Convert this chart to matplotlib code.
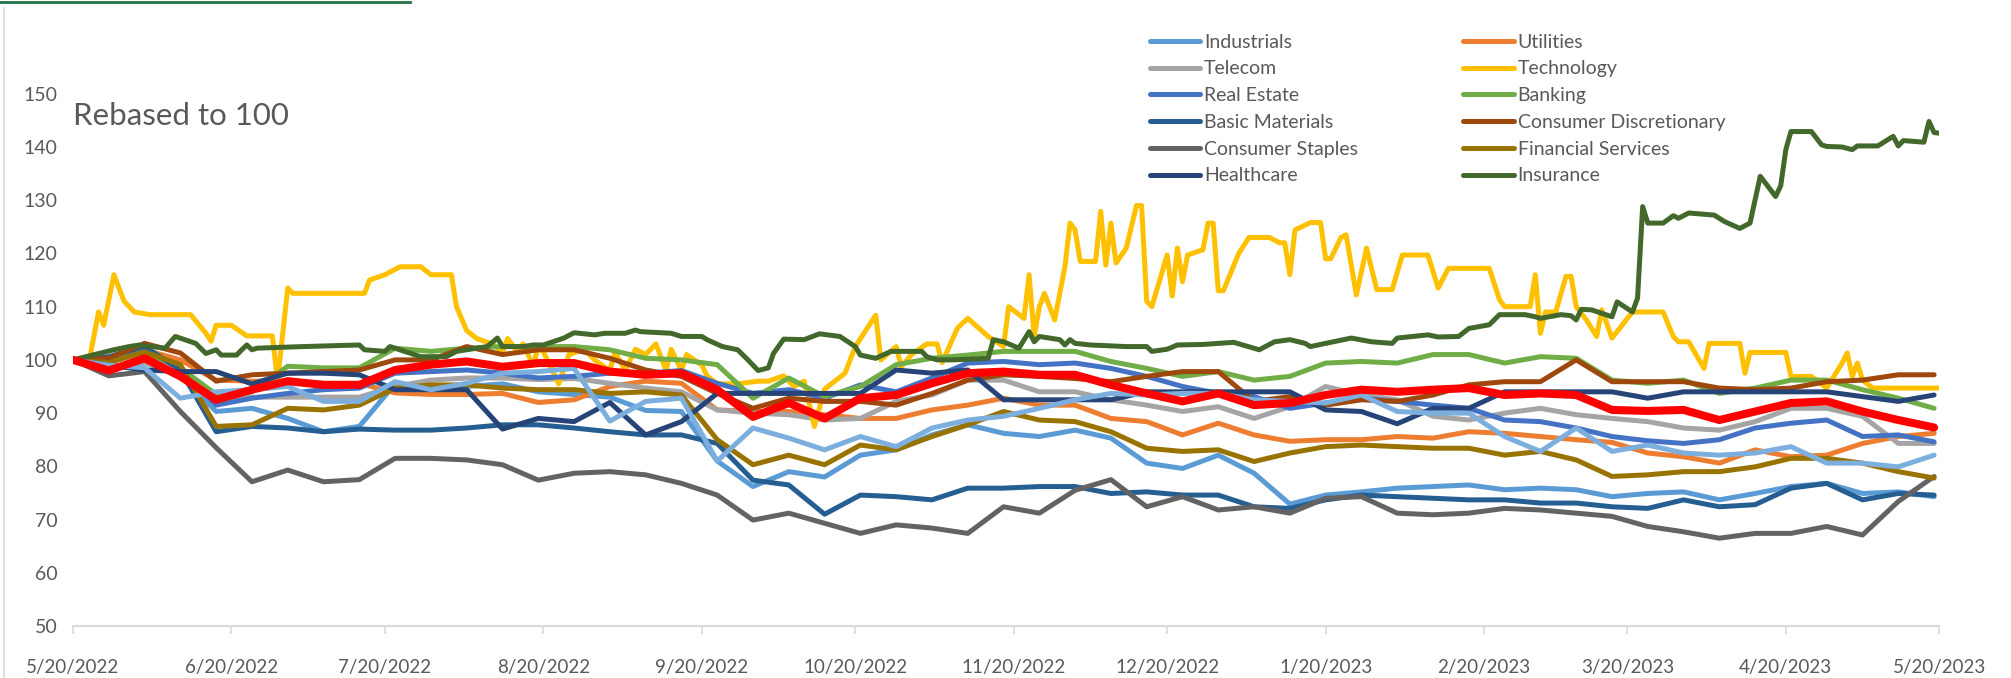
import numpy as np
import matplotlib.pyplot as plt
from matplotlib.lines import Line2D

plt.rcParams['font.family'] = ['Lato', 'DejaVu Sans']

# weekly closes, rebased to 100 on 5/20/2022 (week 0 .. week 52)
industrials = [100, 98.5, 99.5, 97, 90.3, 90.9, 89, 86.5, 87.5,
               95.5, 95, 95, 95.5, 94, 93.5, 93, 90.5, 90.3,
               81, 76.2, 79, 78, 82.1, 83.1, 85.9, 87.8, 86.2,
               85.6, 86.8, 85.3, 80.6, 79.6, 82.1, 78.7, 72.9, 74.6,
               75.2, 75.9, 76.2, 76.5, 75.6, 75.9, 75.6, 74.3, 74.9,
               75.2, 73.7, 74.9, 76.2, 76.8, 74.9, 75.2, 74.3]
utilities = [100, 99.8, 101.9, 100, 96.2, 96, 96, 95.6, 95.6,
             93.8, 93.5, 93.5, 93.7, 92, 92.5, 95, 96, 95.6,
             90.6, 90.3, 90.3, 89.7, 89, 89, 90.6, 91.5, 92.8,
             91.5, 91.5, 89, 88.4, 85.9, 88.1, 85.9, 84.7, 85,
             85, 85.6, 85.3, 86.5, 86.2, 85.6, 85, 84.5, 82.5,
             81.8, 80.6, 83.1, 81.8, 82.1, 84.3, 85.6, 86.2]
telecom = [100, 98.5, 99.5, 97.5, 93, 93, 93, 93, 93,
           95, 96.2, 96.6, 96.6, 96.3, 96.5, 95.6, 94.7, 94,
           90.6, 90, 89.7, 88.7, 89, 92.2, 93.4, 96.2, 96.2,
           94, 94, 92.5, 91.5, 90.3, 91.2, 89, 91.2, 95,
           93.4, 92.5, 89.4, 88.7, 90, 90.9, 89.7, 89, 88.4,
           87.2, 86.8, 88.4, 90.9, 90.9, 89.4, 84.3, 84.3]
real_estate = [100, 99.5, 101.6, 98.4, 91.5, 92.8, 93.7, 94.4, 94.7,
               97.5, 97.8, 98.1, 97.5, 96.6, 96.9, 97.5, 97.5, 98,
               95.6, 93.7, 94.4, 92.8, 95.3, 94, 96.6, 99.4, 99.7,
               99.1, 99.4, 98.4, 96.9, 95, 93.7, 93.1, 90.9, 91.9,
               92.8, 92.2, 91.5, 90.9, 88.7, 88.4, 87.2, 85.6, 84.8,
               84.3, 85, 87.2, 88.1, 88.7, 85.6, 85.9, 84.6]
banking = [100, 99.8, 101.5, 98.5, 93.5, 94, 98.8, 98.5, 98.5,
           102.2, 101.6, 102.2, 102.5, 102.5, 102.5, 101.9, 100.3, 100,
           99.1, 92.8, 96.6, 93.1, 95, 99.1, 100.3, 100.9, 101.6,
           101.6, 101.6, 99.7, 98.4, 96.9, 97.8, 96.2, 96.9, 99.4,
           99.7, 99.4, 101, 101, 99.4, 100.6, 100.3, 96.2, 95.6,
           96.2, 93.7, 94.7, 96.2, 96.2, 94.4, 92.8, 90.9]
basic_materials = [100, 100.6, 102.5, 98.1, 86.5, 87.5, 87.2, 86.5, 87,
                   86.8, 86.8, 87.2, 87.8, 87.8, 87.2, 86.5, 85.9, 85.9,
                   84.3, 77.4, 76.5, 71, 74.6, 74.3, 73.7, 75.9, 75.9,
                   76.2, 76.2, 74.9, 75.2, 74.6, 74.6, 72.4, 72.1, 73.7,
                   74.6, 74.3, 74, 73.7, 73.7, 73.1, 73.1, 72.4, 72.1,
                   73.7, 72.4, 72.8, 75.9, 76.8, 73.7, 74.9, 74.6]
cons_disc = [100, 100.3, 103.1, 101.3, 96, 97.2, 97.5, 97.8, 98.1,
             100, 100, 102.5, 101, 101.9, 101.9, 100.3, 98.1, 96.9,
             93.7, 90.9, 92.8, 92.2, 92.2, 91.5, 93.7, 96.2, 97.2,
             96.9, 96.5, 95.9, 96.9, 97.8, 97.8, 92.2, 93.1, 91.5,
             92.5, 92.2, 93.4, 95.3, 95.9, 95.9, 100, 95.9, 95.9,
             95.9, 94.7, 94.4, 94.7, 95.9, 96.2, 97.2, 97.2]
cons_staples = [100, 97, 97.8, 90.3, 83.5, 77.1, 79.3, 77.1, 77.5,
                81.5, 81.5, 81.2, 80.3, 77.4, 78.7, 79, 78.4, 76.8,
                74.6, 69.9, 71.2, 69.3, 67.4, 69, 68.4, 67.4, 72.4,
                71.2, 75.5, 77.5, 72.4, 74.3, 71.8, 72.4, 71.2, 74,
                74.3, 71.2, 70.9, 71.2, 72.1, 71.8, 71.2, 70.6, 68.7,
                67.7, 66.5, 67.4, 67.4, 68.7, 67.1, 73.4, 78.1]
fin_services = [100, 99.5, 101.5, 99.1, 87.5, 87.8, 90.9, 90.6, 91.5,
                94.7, 95.3, 95.3, 94.7, 94.4, 94.4, 93.7, 94, 93.4,
                85, 80.3, 82.1, 80.3, 84, 83.1, 85.6, 87.8, 90.3,
                88.7, 88.4, 86.5, 83.4, 82.8, 83.1, 80.9, 82.5, 83.7,
                84, 83.7, 83.4, 83.4, 82.1, 82.8, 81.2, 78.1, 78.4,
                79, 79, 79.9, 81.5, 81.5, 80.6, 79, 77.8]
healthcare = [100, 99, 98.1, 97.8, 97.8, 95.5, 97.5, 97.5, 97.2,
              94.4, 94.4, 94.4, 87, 89, 88.4, 92, 85.9, 88.4,
              93.7, 93.7, 93.7, 93.7, 93.7, 98.1, 97.5, 98.1, 92.5,
              92.5, 92.5, 92.5, 94, 94, 94, 94, 94, 90.6,
              90.3, 88, 90.9, 90.9, 94, 94, 94, 94, 92.8,
              94, 94, 94, 94, 94, 93.1, 92.2, 93.4]
other = [100, 99, 98.5, 92.8, 94, 94.4, 95, 92.2, 92.2,
         95.9, 94.4, 95.6, 97.5, 97.8, 98.4, 88.5, 92.2, 92.8,
         81, 87.2, 85.3, 83.1, 85.6, 83.7, 87.2, 88.7, 89.4,
         90.9, 92.5, 93.7, 93.4, 93.7, 93.7, 92.5, 92.2, 91.9,
         93.4, 90.3, 90, 90, 85.6, 82.8, 87.2, 82.8, 84,
         82.5, 82.1, 82.5, 83.7, 80.6, 80.6, 79.9, 82.1]
average = [100, 98, 100.3, 96.9, 92.5, 94.4, 96, 95.3, 95.3,
           98.1, 99.1, 99.7, 98.7, 99.4, 99.4, 97.8, 97.2, 97.5,
           94.4, 89.3, 91.9, 89, 92.8, 93.4, 95.6, 97.5, 97.8,
           97.2, 97.2, 95.3, 93.7, 92.2, 93.7, 91.5, 91.9, 93.4,
           94.4, 94, 94.4, 94.7, 93.4, 93.7, 93.4, 90.6, 90.4,
           90.6, 88.7, 90.3, 91.9, 92.2, 90.3, 88.7, 87.3]

# technology and insurance read at a finer step (days since 5/20/2022)
tech_days = [0, 3, 5, 6, 8, 10, 12, 15, 23, 26, 27, 28, 31, 34, 39, 40, 42, 43, 57, 58,
             61, 64, 68, 70, 74, 75, 77, 79, 82, 84, 85, 87, 88, 90, 91, 92, 95, 97, 100, 102,
             105, 106, 108, 110, 112, 114, 116, 117, 119, 120, 123, 124, 126, 130, 134, 136, 139, 141, 143, 145,
             147, 151, 153, 157, 158, 161, 162, 164, 167, 169, 170, 173, 175, 179, 182, 183, 186, 187, 188, 189,
             190, 192, 194, 195, 196, 197, 200, 201, 202, 203, 204, 206, 208, 209, 210, 211, 214, 215, 216, 217,
             218, 221, 222, 223, 224, 225, 228, 230, 234, 236, 237, 238, 239, 242, 244, 245, 246, 248, 249, 251,
             253, 255, 258, 260, 265, 267, 269, 277, 279, 280, 285, 286, 287, 288, 290, 292, 293, 294, 296, 298,
             299, 301, 305, 311, 313, 314, 316, 319, 320, 326, 327, 328, 335, 336, 340, 343, 346, 347, 348, 349,
             350, 352, 365]
technology = [100, 99, 109, 106.5, 116, 111, 109, 108.5, 108.5, 105, 103.5, 106.5, 106.5, 104.5, 104.5, 96, 113.5, 112.5, 112.5, 115,
              116, 117.5, 117.5, 116, 116, 110, 105.5, 104, 103, 101.5, 104, 101.5, 103, 99, 102.5, 101.5, 95.5, 101, 102, 100,
              98, 101.5, 98, 102, 101, 103, 98, 102, 98, 101, 99, 97, 95.5, 95.5, 96, 96, 97, 95, 96, 87.5,
              94.5, 97.5, 102.5, 108.4, 100, 102.5, 98.7, 101, 103, 103, 99.5, 106, 107.8, 104.4, 102.5, 110, 107.8, 116, 104.4, 110,
              112.5, 107.5, 117.5, 125.7, 124.4, 118.5, 118.5, 127.9, 117.8, 125.7, 118.2, 121, 129, 129, 111, 110, 119.7, 112, 121, 114.7,
              119.7, 120.7, 125.7, 125.7, 113, 113, 120, 123, 123, 122, 122, 116, 124.4, 125.8, 125.8, 119, 119, 123, 123.5, 112.2,
              121, 113.2, 113.2, 119.7, 119.7, 113.5, 117.2, 117.2, 111.3, 110, 110, 116, 105, 109, 109, 115.7, 115.7, 110, 107.5, 104.4,
              109.4, 104.1, 109, 109, 104.4, 103.4, 103.4, 98.4, 103.1, 103.1, 97.5, 101.4, 101.4, 96.9, 96.9, 94.7, 99.4, 101.3, 96.9, 99.4,
              96.2, 94.7, 94.7]
ins_days = [0, 5, 8, 11, 13, 18, 20, 24, 26, 28, 29, 32, 33, 34, 35, 36, 45, 56, 57, 61,
            62, 67, 68, 73, 75, 81, 83, 84, 88, 90, 92, 96, 98, 102, 104, 108, 110, 111, 117, 119,
            123, 124, 127, 130, 132, 134, 136, 137, 139, 143, 146, 150, 153, 154, 157, 160, 166, 167, 169, 172,
            179, 180, 182, 185, 187, 188, 189, 193, 194, 195, 196, 199, 206, 210, 211, 214, 216, 221, 227, 232,
            235, 238, 241, 242, 245, 250, 254, 258, 259, 265, 267, 271, 273, 277, 279, 284, 286, 287, 291, 293,
            294, 295, 297, 301, 302, 305, 306, 307, 308, 311, 313, 314, 316, 321, 323, 326, 328, 330, 333, 334,
            335, 336, 340, 342, 343, 346, 348, 349, 353, 356, 357, 358, 362, 363, 364, 365]
insurance = [100, 101.2, 101.9, 102.5, 102.8, 102.2, 104.4, 103.1, 101.2, 101.9, 100.9, 100.9, 101.9, 102.8, 101.9, 102.2, 102.5, 102.8, 101.9, 101.6,
             102.5, 100.9, 100.6, 100.6, 101.6, 102.5, 104.1, 102.5, 102.5, 102.8, 102.8, 104.1, 105.1, 104.7, 105, 105, 105.6, 105.3, 105, 104.4,
             104.4, 103.8, 102.5, 101.9, 100, 98, 98.5, 101.2, 103.9, 103.8, 104.9, 104.4, 102.5, 100.9, 100.3, 101.6, 101.6, 100.6, 100, 100,
             100.3, 103.8, 103.4, 102.2, 105.3, 103.4, 104.4, 103.8, 102.8, 103.8, 103.1, 102.8, 102.5, 102.5, 101.6, 102, 102.8, 102.9, 103.3, 101.9,
             103.4, 103.8, 103.1, 102.5, 103.1, 104.1, 103.4, 103.1, 104.1, 104.7, 104.3, 104.4, 105.9, 106.6, 108.5, 108.5, 108.1, 107.8, 108.5, 108.3,
             107.5, 109.5, 109.4, 108.1, 110.9, 109, 111.6, 128.8, 125.7, 125.7, 127.1, 126.6, 127.6, 127.2, 126, 124.7, 125.7, 134.5, 130.7, 132.7,
             139.5, 142.9, 142.9, 140.4, 140.1, 140, 139.5, 140.2, 140.2, 142, 140.2, 141.2, 140.9, 144.8, 142.7, 142.6]

tick_labels = ['5/20/2022', '6/20/2022', '7/20/2022', '8/20/2022', '9/20/2022', '10/20/2022',
               '11/20/2022', '12/20/2022', '1/20/2023', '2/20/2023', '3/20/2023', '4/20/2023', '5/20/2023']
tick_dates = ['2022-05-20', '2022-06-20', '2022-07-20', '2022-08-20', '2022-09-20', '2022-10-20',
              '2022-11-20', '2022-12-20', '2023-01-20', '2023-02-20', '2023-03-20', '2023-04-20', '2023-05-20']

start = np.datetime64('2022-05-20')
weeks = start + np.arange(len(average)) * 7
tech_dates = start + np.array(tech_days)
ins_dates = start + np.array(ins_days)
ticks = np.array(tick_dates, dtype='datetime64[D]')

series = [
    ('Industrials', weeks, industrials, '#5B9BD5'),
    ('Utilities', weeks, utilities, '#ED7D31'),
    ('Telecom', weeks, telecom, '#A5A5A5'),
    ('Technology', tech_dates, technology, '#FFC000'),
    ('Real Estate', weeks, real_estate, '#4472C4'),
    ('Banking', weeks, banking, '#70AD47'),
    ('Basic Materials', weeks, basic_materials, '#255E91'),
    ('Consumer Discretionary', weeks, cons_disc, '#9E480E'),
    ('Consumer Staples', weeks, cons_staples, '#636363'),
    ('Financial Services', weeks, fin_services, '#997300'),
    ('Healthcare', weeks, healthcare, '#264478'),
    ('Insurance', ins_dates, insurance, '#43682B'),
]

fig = plt.figure(figsize=(20.11, 6.78), dpi=100)
ax = fig.add_axes([0.0363, 0.0767, 0.928, 0.785])

handles = {}
for name, x, y, c in series:
    ln, = ax.plot(x, y, color=c, lw=3.6, solid_joinstyle='round', solid_capstyle='round', label=name)
    handles[name] = ln
ax.plot(weeks, other, color='#7CAFDD', lw=3.6, solid_joinstyle='round', solid_capstyle='round')
ax.plot(weeks, average, color='#FF0000', lw=5.8, solid_joinstyle='round', solid_capstyle='round')

ax.set_ylim(50, 150)
ax.set_yticks(np.arange(50, 151, 10))
ax.set_xlim(ticks[0], ticks[-1])
ax.set_xticks(ticks)
ax.set_xticklabels(tick_labels)
ax.tick_params(axis='y', length=0, pad=11, labelsize=14, labelcolor='#595959')
ax.tick_params(axis='x', length=6, width=1.2, color='#D9D9D9', pad=18, labelsize=13.5, labelcolor='#595959')
for s in ['top', 'right', 'left']:
    ax.spines[s].set_visible(False)
ax.spines['bottom'].set_color('#D9D9D9')
ax.spines['bottom'].set_linewidth(1.5)

fig.text(73 / 2011, 1 - 116 / 678, 'Rebased to 100', fontsize=22.5, color='#595959', va='center', ha='left')

order = ['Industrials', 'Telecom', 'Real Estate', 'Basic Materials', 'Consumer Staples', 'Healthcare',
         'Utilities', 'Technology', 'Banking', 'Consumer Discretionary', 'Financial Services', 'Insurance']
leg = ax.legend([handles[n] for n in order], order, ncol=2, loc='upper left',
                bbox_to_anchor=(1140 / 2011, 1 - 24 / 678), bbox_transform=fig.transFigure,
                frameon=False, fontsize=14, handlelength=2.6, handletextpad=0.2,
                columnspacing=5.4, labelspacing=0.5, borderpad=0)
for t in leg.get_texts():
    t.set_color('#595959')

# chart border bits
fig.add_artist(Line2D([4 / 2011, 4 / 2011], [0, 1 - 8 / 678], color='#D9D9D9', lw=1.2))
fig.add_artist(Line2D([0, 410 / 2011], [1 - 1.5 / 678, 1 - 1.5 / 678], color='#217346', lw=2))

fig.savefig('out.png', dpi=100)
